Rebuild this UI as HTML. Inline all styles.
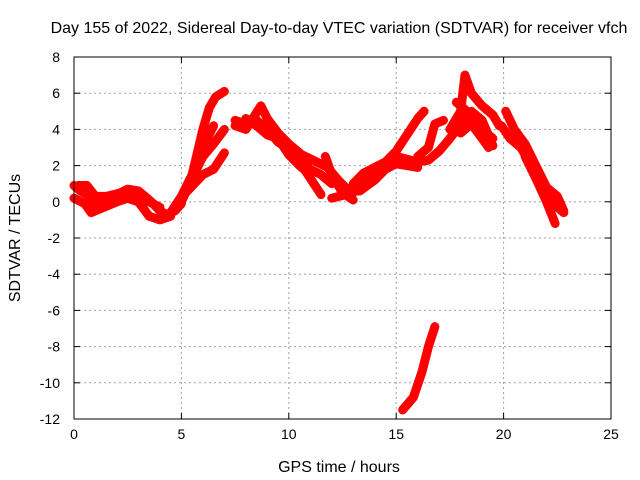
<!DOCTYPE html>
<html><head><meta charset="utf-8"><style>
body{margin:0;background:#fff}
svg{display:block;font-family:"Liberation Sans",sans-serif}
</style></head><body>
<svg id="chart" width="640" height="480">
<text x="339" y="33" text-anchor="middle" font-size="16">Day 155 of 2022, Sidereal Day-to-day VTEC variation (SDTVAR) for receiver vfch</text>
<text x="339" y="472" text-anchor="middle" font-size="16">GPS time / hours</text>
<text transform="translate(20,238) rotate(-90)" text-anchor="middle" font-size="16">SDTVAR / TECUs</text>
<g id="grid"></g><g id="axes"></g><g id="series"></g>
<rect x="74" y="57" width="537" height="362" fill="none" stroke="#000" stroke-width="1"/>
</svg>
<script>
const xTicks=[0,5,10,15,20,25];
const yTicks=[-12,-10,-8,-6,-4,-2,0,2,4,6,8];
const track1=[[0,0.9],[0.3,0.6],[0.6,0.4],[1,-0.1],[1.5,0.1],[2,0.4],[2.5,0.7],[3,0.6],[3.3,0.3],[3.6,0],[4,-0.5],[4.3,-0.7],[4.7,-0.5],[5,-0.1]];
const track2=[[0,0.2],[0.5,-0.1],[0.8,-0.6],[1.2,-0.4],[2,0],[2.5,0.2],[3,0],[3.5,-0.8],[4,-1.0],[4.5,-0.8]];
const track2b=[[0.2,0.9],[0.6,0.9],[1,0.3],[1.5,0.3],[2.2,0.5],[3,0.3],[3.5,0],[4,-0.3]];
const track3=[[4.5,-0.6],[5,0.3],[5.5,1.5],[5.8,3],[6,4],[6.3,5.2],[6.6,5.8],[7,6.1]];
const track4=[[5,0],[5.5,1.3],[6,2.5],[6.5,3.2],[7,4]];
const track5=[[5.2,0.5],[6,1.5],[6.5,1.8],[7,2.7]];
const track5b=[[5.3,1],[5.8,2.2],[6.2,3.5],[6.5,4.2]];
const track6=[[7.5,4.5],[8,4.3],[8.5,4.5],[9,4],[9.5,3.3],[10,2.9],[10.5,2.3],[11,1.8],[11.5,1.5],[12,1]];
const track7=[[7.5,4.2],[8,4],[8.7,5.3],[9,4.6],[9.5,3.8],[10,3.2],[10.6,2.6],[11.3,2.2],[11.8,1.9],[12.3,1.2],[12.8,0.6],[13.3,0.6],[14,1.2],[14.5,1.8],[15,2.1],[15.5,2],[16,1.9]];
const track7b=[[8,4.6],[8.5,4.2],[9,3.7],[9.5,3.5],[10,2.6],[10.5,2],[11,1.5]];
const track8=[[10.5,2.2],[11,1.3],[11.5,0.4]];
const track9=[[11.7,2.5],[12,1.5],[12.5,0.5],[13,0.1]];
const track10=[[12,0.2],[13,0.5],[13.5,1.2],[14,1.8],[14.5,2.2],[15,2.8],[15.5,3.7],[16,4.6],[16.3,5]];
const track11=[[13,1],[13.5,1.6],[14.5,2.2],[15,2.5],[16,2.2],[16.5,2.3],[17,2.8],[17.5,3.5],[18,4.3],[18.5,5],[19,4.5],[19.5,3.1]];
const track12=[[16,2.5],[16.5,3],[16.8,4.3],[17.2,4.5]];
const track13=[[17.5,4],[18,5],[18.2,7],[18.5,6],[19,5.3],[19.5,4.8],[19.8,4.2]];
const track14=[[17.8,5.5],[18.5,4.8],[19,4],[19.5,3.5]];
const track14b=[[18,3.8],[18.5,4.3],[19,3.5],[19.3,3]];
const track15=[[19.9,4.2],[20.3,3.5],[20.8,3],[21.3,2],[21.8,1],[22.2,0.3],[22.5,-0.3],[22.8,-0.6]];
const track16=[[20.1,5],[20.5,4],[21,3.2],[21.5,2],[22,0.8],[22.5,0.3],[22.8,-0.5]];
const track17=[[21,2.5],[21.5,1.3],[22,0],[22.4,-1.2]];
const track18=[[15.3,-11.5],[15.8,-10.8],[16.2,-9.4],[16.5,-8],[16.8,-6.9]];
const tracks=[track1,track2,track2b,track3,track4,track5,track5b,track6,track7,track7b,track8,track9,track10,track11,track12,track13,track14,track14b,track15,track16,track17,track18];

const L=74,R=611,T=57,B=419,xMin=0,xMax=25,yMin=-12,yMax=8;
const sx=v=>L+(v-xMin)/(xMax-xMin)*(R-L);
const sy=v=>B-(v-yMin)/(yMax-yMin)*(B-T);
const NS="http://www.w3.org/2000/svg";
const mk=(t,a,p)=>{const e=document.createElementNS(NS,t);for(const k in a)e.setAttribute(k,a[k]);p.appendChild(e);return e;};
const grid=document.getElementById('grid'),axes=document.getElementById('axes'),ser=document.getElementById('series');
xTicks.forEach(v=>{
  const x=sx(v);
  if(v>xMin&&v<xMax){const g=mk('line',{x1:x,x2:x,y1:T,y2:B,stroke:'#a0a0a0','stroke-dasharray':'2,3'},grid);
  
  }
  mk('line',{x1:x,x2:x,y1:B,y2:B-6,stroke:'#000'},axes);
  mk('line',{x1:x,x2:x,y1:T,y2:T+6,stroke:'#000'},axes);
  const t=mk('text',{x:x,y:B+20,'text-anchor':'middle','font-size':14},axes);
  t.textContent=v;
  
  
});
yTicks.forEach(v=>{
  const y=sy(v);
  if(v>yMin&&v<yMax){const g=mk('line',{x1:L,x2:R,y1:y,y2:y,stroke:'#a0a0a0','stroke-dasharray':'2,3'},grid);
  
  }
  mk('line',{x1:L,x2:L+6,y1:y,y2:y,stroke:'#000'},axes);
  mk('line',{x1:R,x2:R-6,y1:y,y2:y,stroke:'#000'},axes);
  const t=mk('text',{x:L-14,y:y+5,'text-anchor':'end','font-size':14},axes);
  t.textContent=v;
  
  
});
tracks.forEach((tr,i)=>{
  const p=mk('polyline',{points:tr.map(d=>sx(d[0])+','+sy(d[1])).join(' '),fill:'none',stroke:'#ff0000','stroke-width':9,'stroke-linejoin':'round','stroke-linecap':'round'},ser);
  
  
});
</script>
</body></html>
